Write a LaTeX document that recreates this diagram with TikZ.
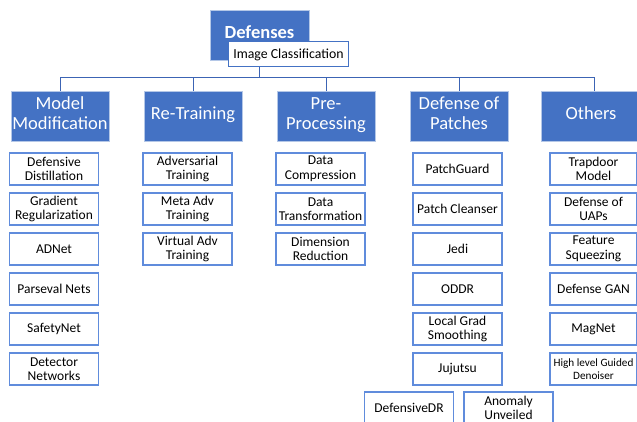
\documentclass[tikz,border=0pt]{standalone}
\usepackage{fontspec}
\setmainfont{Carlito}
\definecolor{accent}{RGB}{68,114,196}
\definecolor{edgeblue}{RGB}{96,140,220}
\definecolor{paleedge}{RGB}{180,199,231}
\definecolor{linkblue}{RGB}{60,100,180}
\newcommand{\lvlone}[2][0pt]{\raisebox{#1}[\height][\depth]{\begin{tabular}{@{}c@{}}#2\end{tabular}}}
\begin{document}
\begin{tikzpicture}[x=1pt,y=-1pt,
  topbox/.style={draw=paleedge,line width=0.8pt,fill=accent,text=white,minimum width=98pt,minimum height=50pt,align=center,inner sep=0pt,font=\fontsize{18.5}{20}\selectfont},
  leaf/.style={draw=edgeblue,line width=1.1pt,fill=white,minimum width=89pt,minimum height=32pt,align=center,inner sep=0pt,font=\fontsize{13.5}{14.5}\selectfont},
  link/.style={draw=linkblue,line width=1pt}]
\useasboundingbox (0,0) rectangle (637,422);
\clip (0,0) rectangle (637,422);
% root
\node[topbox,minimum width=99pt,font=\bfseries\fontsize{18.5}{20}\selectfont] (def) at (259.5,35) {\lvlone{Defenses}};
% level 1
\node[topbox] (mm) at (60,116) {\lvlone{Model\\Modification}};
\node[topbox] (rt) at (193,116) {\lvlone{Re-Training}};
\node[topbox] (pp) at (326,116) {\lvlone{Pre-\\Processing}};
\node[topbox] (dp) at (459,116) {\lvlone{Defense of\\Patches}};
\node[topbox,minimum width=106pt] (oth) at (594,116) {\hspace*{-6pt}\lvlone{Others}};
% connectors
\coordinate (hub) at (259.5,78);
\draw[link] (def.south) -- (hub);
\draw[link] (hub) -| (mm.north);
\draw[link] (hub) -| (rt.north);
\draw[link] (hub) -| (pp.north);
\draw[link] (hub) -| (dp.north);
\draw[link] (hub) -| (oth.north);
% image classification label
\node[draw=accent,line width=1pt,fill=white,minimum width=120pt,minimum height=25pt,inner sep=0pt,font=\fontsize{13.8}{15}\selectfont] (ic) at (288.5,54.5) {Image Classification};
% column 1
\node[leaf] (a1) at (54,169) {Defensive\\Distillation};
\node[leaf] (a2) at (54,209) {Gradient\\Regularization};
\node[leaf] (a3) at (54,249) {ADNet};
\node[leaf] (a4) at (54,289) {Parseval Nets};
\node[leaf] (a5) at (54,329) {SafetyNet};
\node[leaf] (a6) at (54,369) {Detector\\Networks};
% column 2
\node[leaf] (b1) at (187.5,169) {Adversarial\\Training};
\node[leaf] (b2) at (187.5,209) {Meta Adv\\Training};
\node[leaf] (b3) at (187.5,249) {Virtual Adv\\Training};
% column 3
\node[leaf] (c1) at (320.5,169) {Data\\Compression};
\node[leaf] (c2) at (320.5,209) {Data\\Transformation};
\node[leaf] (c3) at (320.5,249) {Dimension\\Reduction};
% column 4
\node[leaf] (d1) at (457.5,169) {PatchGuard};
\node[leaf] (d2) at (457.5,209) {Patch Cleanser};
\node[leaf] (d3) at (457.5,249) {Jedi};
\node[leaf] (d4) at (457.5,289) {ODDR};
\node[leaf] (d5) at (457.5,329) {Local Grad\\Smoothing};
\node[leaf] (d6) at (457.5,369) {Jujutsu};
\node[leaf] (d7) at (409,408) {DefensiveDR};
\node[leaf] (d8) at (508.5,408) {Anomaly\\Unveiled};
% column 5
\node[leaf,minimum width=87pt] (e1) at (593.5,169) {Trapdoor\\Model};
\node[leaf,minimum width=87pt] (e2) at (593.5,209) {Defense of\\UAPs};
\node[leaf,minimum width=87pt] (e3) at (593.5,249) {Feature\\Squeezing};
\node[leaf,minimum width=87pt] (e4) at (593.5,289) {Defense GAN};
\node[leaf,minimum width=87pt] (e5) at (593.5,329) {MagNet};
\node[leaf,minimum width=87pt,font=\fontsize{11.2}{12.5}\selectfont] (e6) at (593.5,369) {High level Guided\\Denoiser};
\end{tikzpicture}
\end{document}
